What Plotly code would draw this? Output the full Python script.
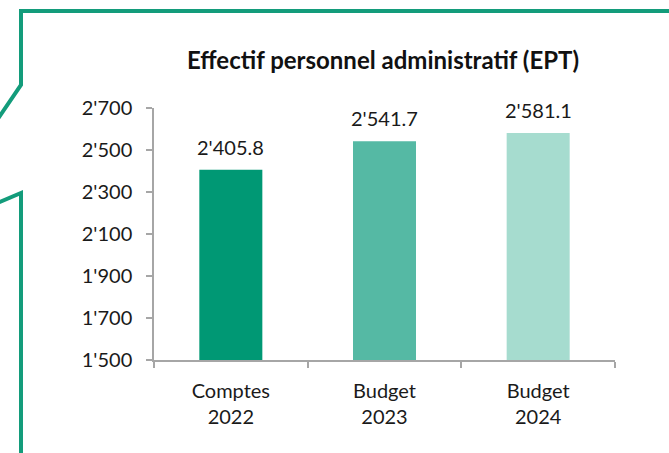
import plotly.graph_objects as go

categories = ["Comptes<br>2022", "Budget<br>2023", "Budget<br>2024"]
values = [2405.8, 2541.7, 2581.1]
bar_colors = ["#009874", "#55B9A4", "#A6DCCF"]
y_ticks = [1500, 1700, 1900, 2100, 2300, 2500, 2700]
y_tick_labels = ["1'500", "1'700", "1'900", "2'100", "2'300", "2'500", "2'700"]
title_text = "Effectif personnel administratif (EPT)"

W, H = 669, 453
L, R, T, B = 154, 54, 108, 93
pw, ph = W - L - R, H - T - B

def px(x):
    return (x - L) / pw

def py(y):
    return (H - B - y) / ph

FONT = "Lato"
fig = go.Figure()
fig.add_trace(go.Bar(x=categories, y=values, marker=dict(color=bar_colors, line=dict(width=0)),
                     width=0.41, hoverinfo="skip"))

for c, v in zip(categories, values):
    fig.add_annotation(x=c, y=v, text=f"{v:,.1f}".replace(",", "'"), showarrow=False,
                       yanchor="bottom", yshift=9, font=dict(family=FONT, size=20, color="#1a1a1a"))

border = "#139C7B"
path1 = f"M {px(700)},{py(11)} L {px(21)},{py(11)} L {px(21)},{py(85)} L {px(-5)},{py(123)}"
path2 = f"M {px(-5)},{py(204)} L {px(21)},{py(193)} L {px(21)},{py(470)}"
for p in (path1, path2):
    fig.add_shape(type="path", path=p, xref="paper", yref="paper",
                  line=dict(color=border, width=4), layer="above")

fig.update_layout(
    width=W, height=H, margin=dict(l=L, r=R, t=T, b=B),
    paper_bgcolor="white", plot_bgcolor="white", showlegend=False,
    separators=".'",
    title=dict(text=f"<b>{title_text}</b>", x=383 / W, y=1 - 61 / H, xanchor="center", yanchor="middle",
               xref="container", yref="container", font=dict(family=FONT, size=24, color="#111111")),
    font=dict(family=FONT, size=20, color="#1a1a1a"),
    xaxis=dict(showline=True, linecolor="#A6A6A6", linewidth=1.5, ticks="outside", tickson="boundaries",
               ticklen=6, tickcolor="#A6A6A6", tickwidth=1.5, showgrid=False, ticklabelstandoff=12,
               tickfont=dict(family=FONT, size=20, color="#1a1a1a")),
    yaxis=dict(range=[1500, 2700], tickvals=y_ticks, ticktext=y_tick_labels, showline=True,
               linecolor="#A6A6A6", linewidth=1.5, ticks="outside", ticklen=6, tickcolor="#A6A6A6",
               tickwidth=1.5, showgrid=False, zeroline=False, ticklabelstandoff=10,
               tickfont=dict(family=FONT, size=20, color="#1a1a1a")),
)

fig.write_html("out.html", config={"displayModeBar": False},
               post_script="document.body.style.margin='0';document.body.style.overflow='hidden';")
